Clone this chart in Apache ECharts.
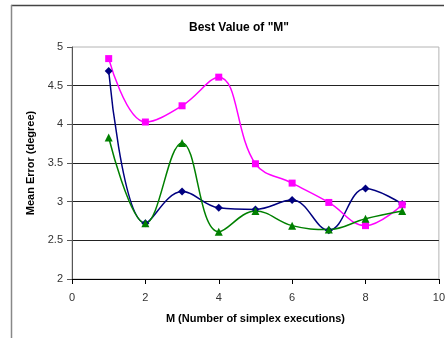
<!DOCTYPE html>
<html>
<head>
<meta charset="utf-8">
<script src="https://cdn.jsdelivr.net/npm/echarts@6/dist/echarts.min.js"></script>
<style>
  html, body { margin: 0; padding: 0; background: #fff; }
  #chart { width: 448px; height: 338px; }
</style>
</head>
<body>
<div id="chart"></div>
<script>
// M values and mean error for each run
const mValues = [1, 2, 3, 4, 5, 6, 7, 8, 9]
const blueErr = [4.69, 2.72, 3.13, 2.92, 2.90, 3.02, 2.63, 3.17, 2.97]
const magentaErr = [4.85, 4.03, 4.24, 4.61, 3.49, 3.24, 2.99, 2.69, 2.96]
const greenErr = [3.83, 2.72, 3.76, 2.61, 2.88, 2.69, 2.64, 2.78, 2.88]

const pairs = ys => mValues.map((x, i) => [x, ys[i]])

const font = 'Liberation Sans, Arial, sans-serif'
const chart = echarts.init(document.getElementById('chart'))

const line = (name, ys, color, symbol, size) => ({
  name,
  type: 'line',
  data: pairs(ys),
  smooth: 0.4,
  symbol,
  symbolSize: size,
  showSymbol: true,
  lineStyle: { width: 1.5, color },
  itemStyle: { color },
  animation: false
})

chart.setOption({
  backgroundColor: '#fff',
  animation: false,
  title: {
    text: 'Best Value of "M"',
    left: 234,
    top: 17,
    textAlign: 'center',
    textStyle: { fontFamily: font, fontSize: 12, fontWeight: 'bold', color: '#000' }
  },
  // outer chart frame (top and left edge)
  graphic: [
    { type: 'line', shape: { x1: 11, y1: 5.5, x2: 444, y2: 5.5 }, style: { stroke: '#444', lineWidth: 1.5 } },
    { type: 'line', shape: { x1: 11.5, y1: 5, x2: 11.5, y2: 338 }, style: { stroke: '#888', lineWidth: 1.5 } }
  ],
  grid: {
    left: 72,
    top: 47,
    right: 7,
    bottom: 59,
    show: true,
    borderColor: '#b4b4b4',
    borderWidth: 1
  },
  xAxis: {
    type: 'value',
    min: 0,
    max: 10,
    interval: 2,
    name: 'M (Number of simplex executions)',
    nameLocation: 'middle',
    nameGap: 34,
    nameTextStyle: { fontFamily: font, fontSize: 11, fontWeight: 'bold', color: '#000' },
    axisLine: { show: true, lineStyle: { color: '#000', width: 1 } },
    axisTick: { show: true, inside: false, length: 5, lineStyle: { color: '#000' } },
    axisLabel: { fontFamily: font, fontSize: 11, color: '#333', margin: 13 },
    splitLine: { show: false }
  },
  yAxis: {
    type: 'value',
    min: 2,
    max: 5,
    interval: 0.5,
    name: 'Mean Error (degree)',
    nameLocation: 'middle',
    nameGap: 36,
    nameTextStyle: { fontFamily: font, fontSize: 11, fontWeight: 'bold', color: '#000' },
    axisLine: { show: true, lineStyle: { color: '#555', width: 1 } },
    axisTick: { show: true, inside: false, length: 5, lineStyle: { color: '#555' } },
    axisLabel: { fontFamily: font, fontSize: 11, color: '#333', margin: 9 },
    splitLine: { show: true, showMinLine: false, showMaxLine: false, lineStyle: { color: '#222', width: 1 } }
  },
  series: [
    line('Blue', blueErr, '#000080', 'diamond', 8),
    line('Magenta', magentaErr, '#ff00ff', 'rect', 7),
    line('Green', greenErr, '#008000', 'triangle', 8)
  ]
})
</script>
</body>
</html>
